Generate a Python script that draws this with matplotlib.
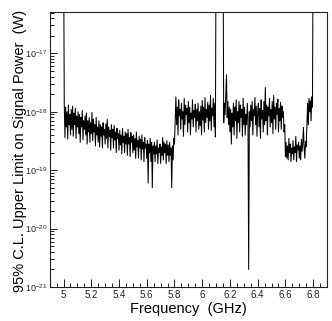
import numpy as np
import matplotlib
matplotlib.use("Agg")
import matplotlib.pyplot as plt
from matplotlib.ticker import MultipleLocator, LogLocator, NullFormatter

plt.rcParams['font.family'] = ['Liberation Sans', 'DejaVu Sans']
plt.rcParams['mathtext.fontset'] = 'custom'
plt.rcParams['mathtext.rm'] = 'Liberation Sans'
plt.rcParams['mathtext.it'] = 'Liberation Sans:italic'

# scan grid: 5.000 GHz upward in 0.005 GHz steps
f_start = 5.0
f_step = 0.005

# upper limits in units of 1e-20 W (1e5 = off scale, above the frame)
spike_lo = [1e5]
band_a = [140, 36, 120, 55, 100, 34, 130, 60, 90, 40,
          110, 50, 125, 38, 95, 60, 115, 35, 85, 55,
          100, 42, 90, 30, 80, 55, 105, 33, 70, 50,
          85, 40, 95, 28, 70, 45, 80, 30, 65, 42,
          97, 32, 75, 45, 60, 26, 80, 40, 55, 30,
          70, 25, 60, 38, 55, 24, 65, 40, 50, 28,
          62, 35, 74, 24, 55, 38, 48, 22, 60, 36,
          50, 24, 58, 33, 45, 20, 52, 35, 42, 22,
          48, 27, 40, 19, 52, 30, 38, 20, 45, 28,
          42, 18, 50, 28, 36, 17, 44, 30, 38, 20,
          40, 22, 35, 16, 45, 25, 32, 16, 38, 24,
          34, 15, 40, 23, 30, 14, 36, 24, 28, 16,
          32, 6, 28, 20, 35, 14, 30, 5, 26, 19,
          30, 14, 26, 19, 33, 13, 24, 20, 28, 13,
          25, 18, 36, 15, 30, 20, 28, 13, 32, 18,
          27, 14, 30, 18, 24, 5, 26, 15, 35, 28]
band_b = [70, 180, 60, 120, 40, 160, 85, 110, 50,
          140, 75, 100, 38, 170, 60, 130, 90, 115, 45,
          150, 65, 120, 40, 95, 75, 160, 55, 105, 80,
          135, 45, 110, 70, 140, 50, 100, 58, 125, 40,
          155, 72, 120, 45, 175, 65, 110, 80, 145, 50,
          130, 70, 190, 48, 115, 85, 170, 55, 140, 37]
gap = [1e5] * 11
band_c = [65, 140, 90, 200, 430, 80, 150, 60, 120, 45,
          110, 28, 95, 55, 140, 40, 120, 70, 160, 35,
          100, 65, 150, 45, 130, 80, 110, 38, 170, 60,
          120, 40, 90, 60, 140, 75, 0.2, 100, 55, 130,
          70, 150, 40, 110, 85, 175, 60, 125, 38, 100,
          140, 55, 115, 35, 160, 75, 105, 45, 150, 60,
          260, 70, 130, 40, 120, 85, 170, 55, 110, 65,
          150, 42, 190, 75, 120, 50, 140, 90, 165, 45,
          115, 70, 145, 50, 125, 80, 100, 45, 60, 17]
band_d = [30, 16, 26, 15, 35, 20, 28, 14, 24, 19,
          32, 15, 25, 20, 38, 14, 27, 22, 30, 16,
          26, 15, 34, 21, 29, 54, 24, 16, 31, 25, 60]
band_e = [140, 60, 170, 100, 155, 70, 180, 120]
spike_hi = [1e5]

limit = np.concatenate([spike_lo, band_a, band_b, gap, band_c,
                        band_d, band_e, spike_hi]) * 1e-20
freq = f_start + f_step * np.arange(len(limit))

fig = plt.figure(figsize=(3.32, 3.21), dpi=100)
ax = fig.add_axes([0.1497, 0.1059, 0.8353, 0.8567])
ax.plot(freq, limit, color='black', lw=0.75)

ax.set_yscale('log')
ax.set_xlim(4.9, 6.9)
ax.set_ylim(1e-21, 5.1e-17)

ax.xaxis.set_major_locator(MultipleLocator(0.2))
ax.xaxis.set_minor_locator(MultipleLocator(0.05))
ax.xaxis.set_major_formatter(plt.FuncFormatter(lambda v, p: f"{v:g}"))
ax.yaxis.set_major_locator(LogLocator(base=10, numticks=10))
ax.yaxis.set_minor_locator(LogLocator(base=10, subs=np.arange(2, 10), numticks=20))
ax.yaxis.set_minor_formatter(NullFormatter())

ax.tick_params(axis='both', which='both', direction='in', top=False, right=False,
               colors='#222222', width=0.7)
ax.tick_params(axis='x', which='major', length=5.8, pad=2.5, labelsize=7)
ax.tick_params(axis='x', which='minor', length=2.9, labelbottom=False)
ax.tick_params(axis='y', which='major', length=5.0, pad=1.5, labelsize=6.5)
ax.tick_params(axis='y', which='minor', length=2.6, labelleft=False)
for s in ax.spines.values():
    s.set_linewidth(0.8)
    s.set_color('#222222')

ax.set_xlabel('Frequency  (GHz)', fontsize=10.5)
ax.set_ylabel('95% C.L. Upper Limit on Signal Power  (W)', fontsize=10.5)
ax.xaxis.set_label_coords(0.5, -0.055)
ax.yaxis.set_label_coords(-0.082, 0.495)

fig.savefig('out.png', dpi=100)
